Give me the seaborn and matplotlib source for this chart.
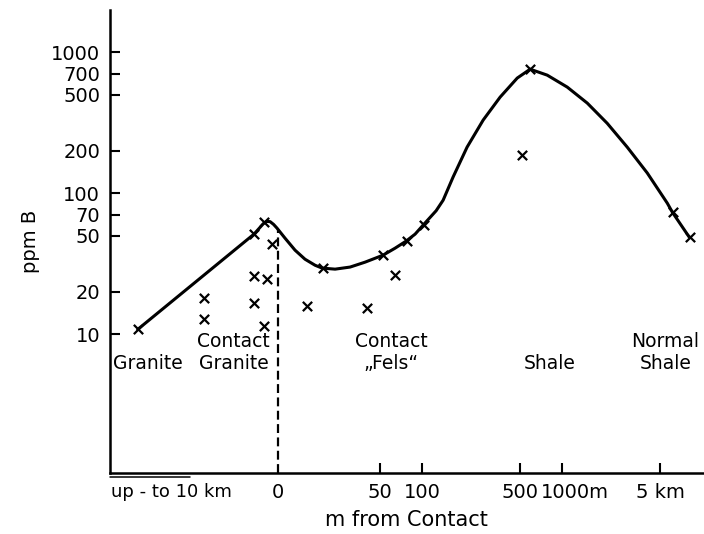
import numpy as np
import pandas as pd
import matplotlib
matplotlib.use("Agg")
import matplotlib.pyplot as plt
import matplotlib.transforms as mtransforms
import seaborn as sns

# x values are positions on the (log-metre) distance axis: u = log10(m); contact ("0") at u≈0.97
sample_x = [-0.03, 0.44, 0.44, 0.80, 0.87, 0.93, 0.80, 0.89, 0.80, 0.87,
            1.18, 1.29, 1.61, 1.72, 1.81, 1.89, 2.01, 2.71, 2.77, 3.79, 3.91]
sample_ppm = [10.8, 18.0, 12.8, 51, 62, 43.5, 25.8, 24.6, 16.6, 11.4,
              15.9, 29.4, 15.3, 36.3, 26.2, 45.7, 59.3, 186, 757, 73.3, 48.7]

curve_x = [-0.03, 0.80, 0.835, 0.865, 0.89, 0.915, 0.94, 0.964, 1.021, 1.093, 1.164, 1.236,
           1.286, 1.379, 1.486, 1.593, 1.721, 1.807, 1.886, 1.95, 2.007, 2.10,
           2.15, 2.221, 2.321, 2.436, 2.557, 2.679, 2.771, 2.893, 3.036, 3.179,
           3.321, 3.464, 3.607, 3.75, 3.786, 3.907]
curve_ppm = [10.8, 51.2, 56.0, 60.5, 63.0, 62.8, 60.0, 56.5, 48.0, 39.4, 34.0, 30.8,
             29.4, 28.9, 29.9, 32.4, 36.3, 40.7, 45.7, 51.2, 59.3, 75,
             89.1, 130, 212, 330, 480, 655, 757, 687, 565, 435,
             313, 212, 139, 84.9, 73.3, 48.7]

contact_x = 0.971
y_ticks = [10, 20, 50, 70, 100, 200, 500, 700, 1000]
x_tick_pos = [0.214, 0.971, 1.699, 2.0, 2.699, 3.0, 3.699]
x_tick_labels = ["up - to 10 km", "0", "50", "100", "500", "1000m", "5 km"]
granite_range = [-0.229, 0.34]

zone_labels = ["Granite", "Contact\nGranite", "Contact\n\u201eFels\u201c", "Shale", "Normal\nShale"]
zone_x = [0.04, 0.654, 1.779, 2.914, 3.736]
zone_ppm = [6.2, 7.4, 7.4, 6.2, 7.4]

sns.set_theme(style="ticks")
plt.rcParams["font.family"] = ["DejaVu Sans"]
for k in ["text.color", "axes.labelcolor", "xtick.color", "ytick.color", "axes.edgecolor"]:
    plt.rcParams[k] = "black"

fig = plt.figure(figsize=(7.04, 5.34), dpi=100)
ax = fig.add_axes([0.156, 0.114, 0.843, 0.867])

curve_df = pd.DataFrame({"x": curve_x, "ppm": curve_ppm})
samples_df = pd.DataFrame({"x": sample_x, "ppm": sample_ppm})

sns.lineplot(data=curve_df, x="x", y="ppm", sort=False, color="black", linewidth=2.2, ax=ax)
sns.scatterplot(data=samples_df, x="x", y="ppm", marker="x", color="black", s=45,
                linewidth=1.6, ax=ax, zorder=3)

ax.set_yscale("log")
ax.set_xlim(-0.229, 4.007)
ax.set_ylim(1.033, 1986)

# dashed contact line from the curve down to the axis
ax.vlines(contact_x, ax.get_ylim()[0], np.interp(contact_x, curve_x, curve_ppm),
          colors="black", linestyles=(0, (4, 2)), linewidth=1.6)

# range bracket under the granite side of the axis
ax.plot(granite_range, [-0.009, -0.009], color="black", linewidth=1.1,
        transform=ax.get_xaxis_transform(), clip_on=False)

for lbl, zx, zy in zip(zone_labels, zone_x, zone_ppm):
    ax.text(zx, zy, lbl, ha="center", va="center", fontsize=13.5, linespacing=1.15)

ax.set_yticks(y_ticks)
ax.set_yticklabels([str(v) for v in y_ticks], fontsize=14)
ax.yaxis.set_minor_locator(matplotlib.ticker.NullLocator())
ax.set_xticks(x_tick_pos)
ax.set_xticklabels(x_tick_labels, fontsize=14)
ax.xaxis.set_minor_locator(matplotlib.ticker.NullLocator())
ax.tick_params(axis="both", direction="in", length=7, width=1.5, colors="black", pad=7)
ticks = ax.xaxis.get_major_ticks()
for t in ticks[:2]:
    t.tick1line.set_visible(False)
xlabels = ax.get_xticklabels()
xlabels[0].set_fontsize(13)
xlabels[5].set_transform(xlabels[5].get_transform() +
                         mtransforms.ScaledTranslation(13 / 100, 0, fig.dpi_scale_trans))

ax.set_xlabel("m from Contact", fontsize=15, labelpad=6)
ax.set_ylabel("ppm B", fontsize=14, labelpad=8)

sns.despine(ax=ax)
for s in ["left", "bottom"]:
    ax.spines[s].set_linewidth(1.8)
    ax.spines[s].set_color("black")

fig.savefig("out.png", dpi=100)
